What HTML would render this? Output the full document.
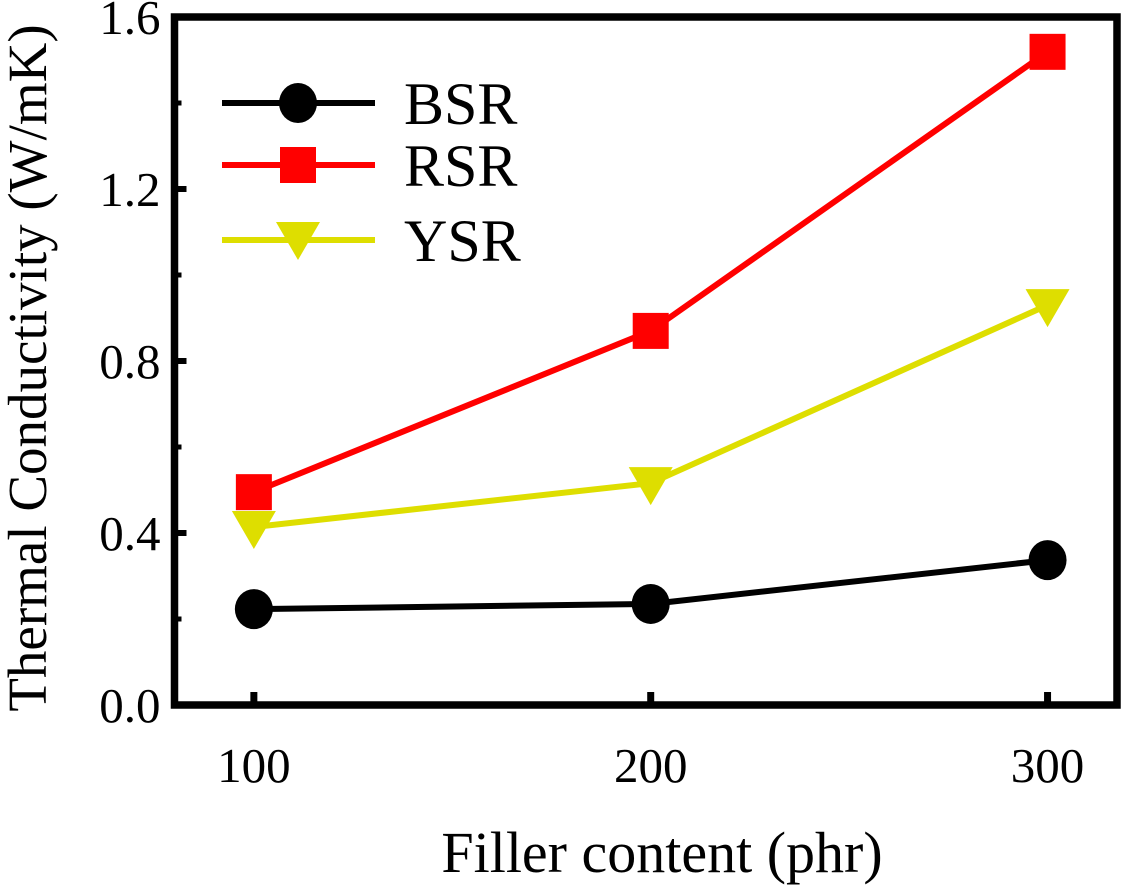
<!DOCTYPE html>
<html><head><meta charset="utf-8"><style>
html,body{margin:0;padding:0;background:#fff;}
svg{display:block;font-family:"Liberation Serif",serif;}
</style></head><body>
<svg id="chart" width="1134" height="886"></svg>
<script>
const categories=[100,200,300];
const bsr=[0.223,0.235,0.337];
const rsr=[0.495,0.870,1.519];
const ysr=[0.414,0.516,0.930];
const yTicks=[0.0,0.4,0.8,1.2,1.6];
const yMinor=[0.2,0.6,1.0,1.4];
const xTicks=[100,200,300];

const L=174.5,R=1117,T=17,B=705;
const xMin=80,xMax=317.5,yMin=0,yMax=1.6;
const X=v=>L+(v-xMin)/(xMax-xMin)*(R-L);
const Y=v=>B-(v-yMin)/(yMax-yMin)*(B-T);
const NS="http://www.w3.org/2000/svg";
const svg=document.getElementById('chart');
function mk(tag,attrs,parent){const e=document.createElementNS(NS,tag);for(const k in attrs)e.setAttribute(k,attrs[k]);(parent||svg).appendChild(e);return e;}

yTicks.forEach(v=>{
 const t=mk('line',{x1:L,x2:L+12,y1:Y(v),y2:Y(v),stroke:'#000','stroke-width':6});
 
 
 const lb=mk('text',{x:L-14,y:Y(v)+17,'text-anchor':'end','font-size':49});
 lb.textContent=v.toFixed(1);
 
 
});
yMinor.forEach(v=>{
 const t=mk('line',{x1:L,x2:L+7,y1:Y(v),y2:Y(v),stroke:'#000','stroke-width':5});
 
 
});
xTicks.forEach(v=>{
 const t=mk('line',{x1:X(v),x2:X(v),y1:B,y2:B-13,stroke:'#000','stroke-width':7});
 
 
 const lb=mk('text',{x:X(v),y:B+77,'text-anchor':'middle','font-size':49});
 lb.textContent=v;
 
 
});

function circle(x,y,g){return mk('ellipse',{cx:x,cy:y,rx:19,ry:20,fill:'#000'},g);}
function square(x,y,g){return mk('rect',{x:x-18,y:y-18,width:36,height:36,fill:'#ff0000'},g);}
function tri(x,y,g){return mk('polygon',{points:`${x-22},${y-16} ${x+22},${y-16} ${x},${y+22}`,fill:'#dede00'},g);}

const series=[
 {name:'bsr',vals:bsr,color:'#000',m:circle},
 {name:'rsr',vals:rsr,color:'#ff0000',m:square},
 {name:'ysr',vals:ysr,color:'#dede00',m:tri}
];
series.slice().reverse().forEach(s=>{
 const g=mk('g',{});
 
 
 const pl=mk('polyline',{points:categories.map((c,i)=>X(c)+','+Y(s.vals[i])).join(' '),fill:'none',stroke:s.color,'stroke-width':6},g);
 
 
 categories.forEach((c,i)=>{
  const m=s.m(X(c),Y(s.vals[i]),g);
  
  
 });
});

const lg=mk('g',{});


[['BSR',103],['RSR',165],['YSR',240]].forEach((e,i)=>{
 const s=series[i];
 const ln=mk('line',{x1:222,x2:375,y1:e[1],y2:e[1],stroke:s.color,'stroke-width':6},lg);
 
 
 const m=s.m(298,i==2?e[1]-2:e[1],lg);
 
 
 const t=mk('text',{x:404,y:e[1]+21,'font-size':60},lg);
 t.textContent=e[0];
 
 
});

const frame=mk('rect',{x:L,y:T,width:R-L,height:B-T,fill:'none',stroke:'#000','stroke-width':7.5});



const yt=mk('text',{x:0,y:0,'text-anchor':'middle','font-size':55,transform:`translate(46,${(T+B)/2+7}) rotate(-90)`});
yt.textContent='Thermal Conductivity (W/mK)';


const xt=mk('text',{x:662,y:872,'text-anchor':'middle','font-size':58});
xt.textContent='Filler content (phr)';


</script>
</body></html>
